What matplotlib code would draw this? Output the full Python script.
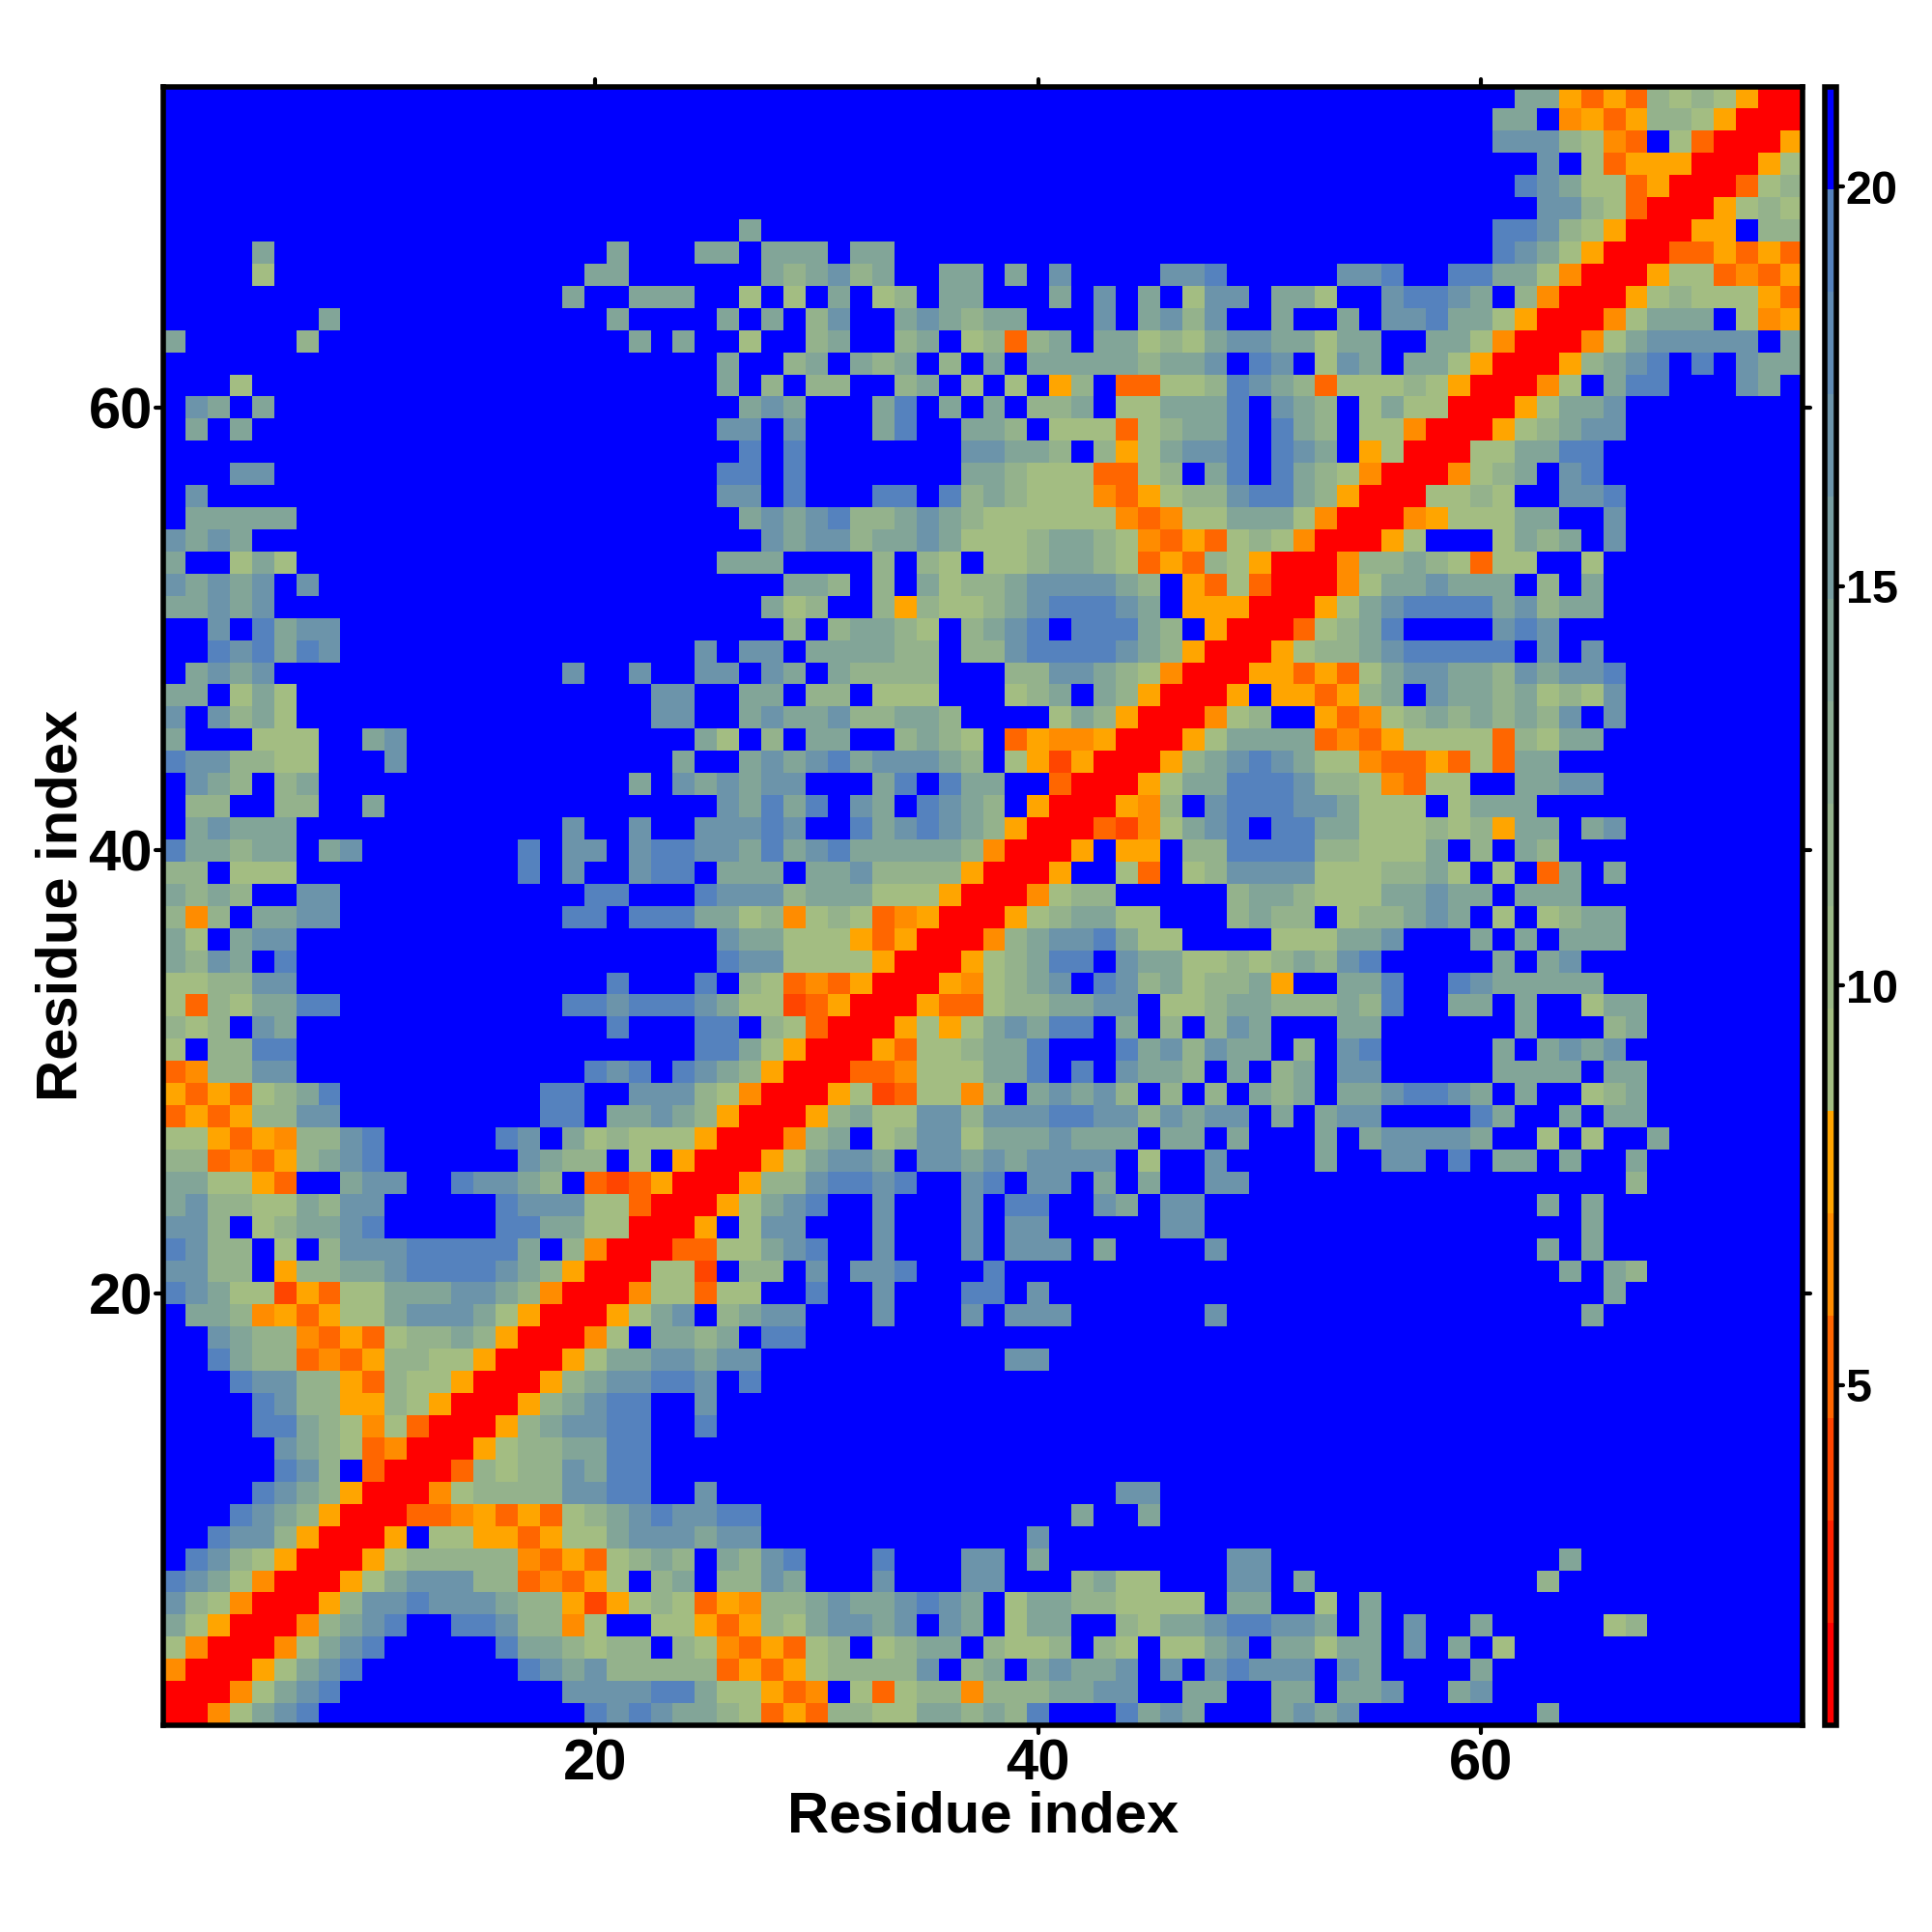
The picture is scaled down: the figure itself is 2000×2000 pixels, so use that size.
import numpy as np
import matplotlib
matplotlib.use("Agg")
import matplotlib.pyplot as plt
from matplotlib.colors import ListedColormap, BoundaryNorm
from matplotlib.markers import MarkerStyle

plt.rcParams['font.family'] = ['Liberation Sans', 'DejaVu Sans']

n_residues = 74
tick_values = [20, 40, 60]
cbar_ticks = [5, 10, 15, 20]
axis_label = "Residue index"

# distance read for each colour class
level_values = {'r': 1.4, 'e': 3.9, 'd': 5.2, 'n': 6.5, 'a': 7.8,
                'l': 9.0, 'm': 11.5, 'g': 14.2, 't': 16.7, 's': 19.3}
blue_value = 20.6

# non-blue cells per row, top row (residue 74) first: "column:classes" (column 0 = residue 1)
rows_top_down = [
"61:ggadadmlmlarr",
"60:gg 63:nadammlarrr",
"60:ttt 63:mlnd 68:ldrrra",
"62:t 64:ldaaarrral",
"61:stglldarrrdlm",
"62:ttmldrrralml",
"26:g 60:sstmlarrraa 72:mm",
"4:g 20:g 24:gg 27:ggg 31:gg 60:stglarrrddadad",
"4:l 19:gg 27:gmgtmg 35:gg 38:g 40:t 45:tts 53:tts 58:ssgglnrrralldnda",
"18:g 21:ggg 26:l 28:l 30:g 32:lm 35:gg 40:g 42:t 44:g 46:ltt 50:ggl 55:tsstg 61:mnrrralmlllad",
"7:g 20:g 25:g 27:g 29:mt 33:gtgmgg 42:t 44:gtmt 50:g 53:g 55:ttsgglarrrnlggg 71:lna",
"0:g 6:m 21:g 23:g 26:l 29:mg 33:mg 36:lmdmg 42:gglmlgtt 50:gglgg 57:gglnrrrnlgttttt 73:g",
"25:g 28:mg 31:gmg 35:m 37:g 39:gggggmggt 49:st 52:ltg 56:gglarrramgts 69:s 71:tgg",
"3:l 25:g 27:m 29:mm 33:mg 36:l 38:l 40:am 43:ddllmstgmdlllmlarrrnl 65:gss 71:tg",
"1:tg 4:g 26:gtg 32:gs 35:g 37:g 39:mmg 43:llggg 48:s 50:tgm 54:lgllrrralggt",
"1:g 3:g 25:tt 28:t 32:gs 36:ggm 40:llldlmggs 50:sgm 54:llnrrralmgtt",
"26:s 28:s 36:ttggm 42:malgtts 50:stg 54:alrrrllggss",
"3:tt 25:ss 28:s 36:ggmlllddlm 47:gs 50:sgmlnrrrnlmg 63:ts",
"1:t 25:tt 28:s 32:ss 35:smgmlllndalmmts 50:sgmarrrllml 63:tts",
"1:ggggg 26:gtgtsmmgtgmllllllndnllgggln 53:rrrnalllgg 65:t",
"0:tgtg 27:tgttmggtglllmggmlndadlmlnrrral 60:lgmg 65:t",
"0:g 3:lgl 25:ggg 32:m 34:ml 37:llmggmldadmlarrrnmmgmldll 64:l",
"0:tgtgt 6:t 28:ggm 32:m 34:glmmgttttgm 46:adldrrrnlggtggg 62:m 64:g",
"0:ggtgt 27:glm 32:mamllmgtssstg 46:aaarrralgtssssgtmgg",
"2:t 4:sgtt 28:m 30:mggml 36:mgts 41:sssgm 47:arrrdlmgs 60:tst",
"2:stsgst 24:t 26:tt 29:ggggmm 36:mmtsssstgmarrralmmgtsssss 62:t 64:t",
"1:gtgt 18:t 21:t 24:tt 27:tg 30:gmmmm 38:mmttgmlnrrraadadlgttggmtgtts",
"0:gg 3:lgl 22:tt 26:gg 29:mm 32:lll 38:lmg 42:gmarrra 50:aadamg 57:tggmglmlt",
"0:t 2:tmgl 22:tt 26:gtggtmmggm 40:lgmarrrnlm 52:adnlmgmgmgmt 65:t",
"0:g 4:lll 9:gt 24:gl 27:m 29:gg 33:mgml 38:dannarrralggggdndalllldmlgg",
"0:sttmmll 10:t 23:g 26:gtgtsgtttgm 38:laearrramgtstgllnddadldgg",
"1:tgm 5:mg 21:g 23:tgtgtt 32:gs 35:sgg 40:drrralggssstmmlndll 61:ggtt",
"1:mm 5:mm 9:g 25:tgsgs 31:tg 34:stgm 39:arrranm 47:tsssttglll 58:lggg",
"1:gtggg 18:t 21:t 24:tttst 31:sgtstgmarrrdenlgts 50:ssgglllmlmagg 64:gt",
"0:sggmgg 7:gt 16:s 18:tt 21:tssttgsgtsgggggmnrrra 43:aa 46:mmssssmmlllg 59:m 61:gm",
"0:mm 3:lll 16:s 18:t 21:tss 25:ggg 29:ggtmmmmarrra 43:ld 46:lmttttlllmmgl 60:l 62:dg 65:g",
"0:gmgm 6:tt 19:ss 24:stttmggglllarrrnlmm 48:mggmlllggtgg 61:ggg",
"0:mnm 4:ggtt 18:ss 21:sssgglmnlmldnarrralmggll 48:mgmm 53:lmmgtg 60:l 62:lmgg",
"0:gl 3:gtt 25:tgglllada 34:rrrnmgttsgll 50:lllggt 59:g 61:g 63:ggg",
"0:gmtg 5:s 25:sttllllarrralmgss 43:tggllmlmgmts 60:g 62:gt",
"0:llmmtt 20:s 24:s 26:mldndarrranlmgt 42:stmglmmga 53:ggs 58:stggggg",
"0:ldmlggss 18:sstssstg 26:lledarrraddlmmggtt 45:llmggmmmgms 58:gg 61:g 64:lgg",
"0:mlm 4:tg 20:s 24:ss 27:mldrrralalgtgss 43:g 45:m 47:mtg 53:gg 61:g 65:mg",
"0:l 2:mmss 24:ssglarrradllmggs 43:sgtmtgg 51:m 53:ts 60:g 62:gtgt",
"0:dnmmtt 19:sts 23:stgmarrrddnlllggs 41:s 43:tggm 48:g 50:mg 53:tt 60:gggg 65:gg",
"0:adadlmgs 17:ss 21:tttmlnrrraledllnm 39:gtgtm 45:m 47:m 49:gmg 53:ggtsstg 61:g 64:lmg",
"0:dadammtt 17:ss 20:ggtgmarrramgllttmtttssttmtgtt 50:g 52:gtt 59:sg 63:g 65:gg",
"0:lladanmmts 15:st 18:glmlllarrrnmg 32:lmttlgggtggg 45:gg 48:g 52:g 54:gttttg 62:l 64:l 67:g",
"0:mmdndamgts 16:tgmm 21:l 23:arrralgttg 34:ttgtgtttt 44:l 47:t 52:g 55:tt 58:s 60:gg 63:g 66:g",
"0:ggllad 8:gtt 13:sttgm 19:dedarrrammtssts 36:ts 39:tt 42:g 44:g 47:tt 66:m",
"0:gtmmllgmtt 15:stttlldrrralgts 32:t 36:t 38:ss 42:tg 45:tt 62:g 64:g",
"0:ttm 4:lmggts 15:ssggllrrra 26:ltt 32:t 36:t 38:tt 45:tt 64:g",
"0:stmm 5:l 7:mtttsssssg 18:mnrrrddllgts 32:t 36:t 38:ttt 42:g 47:t 62:g 64:g",
"0:ttmm 5:ammggtsssstgmarrrlle 26:mm 29:t 31:tts 37:s 63:g 65:gm",
"0:stglleadllgggttgmnrrrnlldll 29:s 32:t 36:ss 39:t 65:g",
"1:ggmnadallgtttglarrralgt 25:mgtt 32:t 36:t 38:ttt 47:t 64:g",
"2:tgmmndadlmmgmarrrnl 22:ggmg 27:ss",
"2:sgmmdndammllarrralggttgtt 38:tt",
"3:sttmmadmllarrramgttsst 26:s",
"4:stmmaamlarrramgtss 24:t",
"4:ssgmlnldrrramgttss 24:s",
"5:tgmldnrrralmmggss",
"5:stm 9:drrrdmlmmtgss",
"4:stgmarrrnlmmmmttss 24:t 43:tt",
"3:stgmarrrddnadadlmgtsttss 41:g 44:g",
"2:sttmarrra 12:llaadallgtttgtt 39:t",
"1:stmlarrralmmmmmndadlmgm 25:gmts 32:s 36:tt 39:g 48:tt 63:g",
"0:stglnrrralgtttmmdndal 22:mg 25:mmtg 32:t 36:tt 41:mgll 48:tt 51:g 62:m",
"0:tmlnrrramttstttgmmaealmldanmmgtggtstg 38:lggmmllll 48:gg 52:l 54:g",
"0:glarrrnmgts 13:sstmmnl 22:lladamlgttgt 35:tg 38:lgg 43:mlggtssttg 54:g 56:t 59:g 65:lm",
"0:lnrrrnlgts 15:sggmlmm 23:mlndadlm 32:lmgg 37:mllm 42:ml 45:llgt 50:gglgg 56:t 58:g 60:l",
"0:nrrralgts 16:stgtmmmmmdadalmmmmt 36:mg 39:gtggt 45:t 47:tsttt 53:tg 59:g",
"0:rrrnlgts 18:ttttssglladn 31:ldlmmnmmmggtt 46:gg 50:gg 53:ggt 58:gt",
"0:rrnlgts 19:ststggmldadmmllggmgms 43:sgtg 50:gtgt 62:g",
]

# colour scale: 16 equal bands, as on the colour bar
vmin, vmax = 0.744, 21.256
n_bands = 16
hot = ['#FF0000', '#FF2200', '#FF4500', '#FF6600', '#FF8C00', '#FFA500']
mid = ['#A3BD82', '#9BB887', '#94B28C', '#8BAB92', '#82A598',
       '#779DA1', '#6C94AA', '#608BB4', '#5582BE']
colours = hot + mid + ['#0000FF']
edges = np.linspace(vmin, vmax, n_bands + 1)
cmap = ListedColormap(colours)
norm = BoundaryNorm(edges, cmap.N)

grid = np.full((n_residues, n_residues), blue_value)
for n, spec in enumerate(rows_top_down):
    row = n_residues - 1 - n
    for part in spec.split():
        start, codes = part.split(':')
        for k, ch in enumerate(codes):
            grid[row, int(start) + k] = level_values[ch]


def round_ticks(axis):
    for t in axis.get_ticklines():
        t.set_marker(MarkerStyle(t.get_marker(), capstyle='round'))


W = 2000.0
fig = plt.figure(figsize=(10, 10), dpi=200, facecolor='white')
ax = fig.add_axes([169 / W, 1 - 1786 / W, 1697 / W, 1696.5 / W])
cell_edges = np.arange(n_residues + 1) + 0.5
mesh = ax.pcolormesh(cell_edges, cell_edges, grid, cmap=cmap, norm=norm,
                     shading='flat', linewidth=0, rasterized=True)
ax.set_xlim(0.5, n_residues + 0.5)
ax.set_ylim(0.5, n_residues + 0.5)
ax.set_xticks(tick_values)
ax.set_yticks(tick_values)
ax.tick_params(axis='both', which='major', direction='out', length=3, width=1.5,
               top=True, right=True, labelsize=21.5)
ax.tick_params(axis='x', pad=2.0)
ax.tick_params(axis='y', pad=1.0)
for lab in ax.get_xticklabels() + ax.get_yticklabels():
    lab.set_fontweight('bold')
for s in ax.spines.values():
    s.set_linewidth(2.0)
round_ticks(ax.xaxis)
round_ticks(ax.yaxis)
fig.text(1018 / W, 1 - 1881 / W, axis_label, ha='center', va='center',
         fontsize=21.5, fontweight='bold')
fig.text(64 / W, 1 - 937.5 / W, axis_label, ha='center', va='center', rotation=90,
         fontsize=21.5, fontweight='bold')

cax = fig.add_axes([1889.3 / W, 1 - 1786 / W, 12 / W, 1696.5 / W])
cb = fig.colorbar(mesh, cax=cax, ticks=cbar_ticks, spacing='proportional')
cb.ax.minorticks_off()
cb.outline.set_linewidth(2.0)
cb.ax.tick_params(length=2.6, width=1.5, labelsize=17.5, pad=0.8)
for lab in cb.ax.get_yticklabels():
    lab.set_fontweight('bold')
round_ticks(cb.ax.yaxis)

fig.savefig('out.png', dpi=200, facecolor='white')
